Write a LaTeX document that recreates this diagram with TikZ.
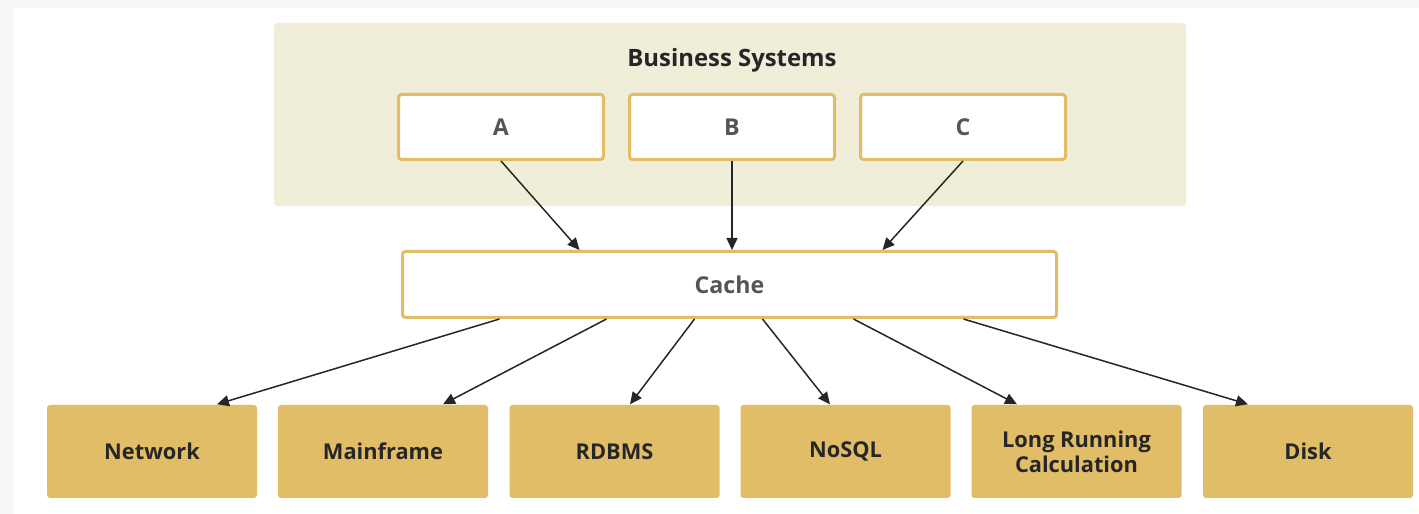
\documentclass[tikz,border=0pt]{standalone}
\usepackage{fontspec}
\setmainfont{Open Sans}
\usepackage{tikz}
\usetikzlibrary{arrows.meta}

\definecolor{pagegray}{HTML}{F8F8F8}
\definecolor{bizbg}{HTML}{F0EDD8}
\definecolor{gold}{HTML}{E2BD67}
\definecolor{labelgray}{HTML}{555555}
\definecolor{labeldark}{HTML}{262626}

\begin{document}
\begin{tikzpicture}[x=1cm,y=1cm,
  sysbox/.style={draw=gold, line width=0.03cm, fill=white, rounded corners=0.03cm,
    minimum width=2.05cm, minimum height=0.65cm, inner sep=0pt,
    text=labelgray, font=\fontsize{6.6}{7.8}\selectfont\bfseries},
  storebox/.style={fill=gold, rounded corners=0.03cm,
    minimum width=2.10cm, minimum height=0.93cm, inner sep=0pt, align=center,
    text=labeldark, font=\fontsize{6.2}{7.2}\selectfont\bfseries},
  feed/.style={-{Triangle[length=0.12cm,width=0.11cm]}, line width=0.015cm, black!85}]
% page
\fill [pagegray] (0,0) rectangle (14.19,-5.14);
\fill [white] (0.14,-0.08) rectangle (14.19,-5.14);
\useasboundingbox (0,0) rectangle (14.19,-5.14);
% business systems group
\node (biz) [fill=bizbg, rounded corners=0.03cm, minimum width=9.12cm, minimum height=1.83cm] at (7.30,-1.145) {};
\node (biztitle) [text=labeldark, font=\fontsize{6.8}{8}\selectfont\bfseries] at (7.32,-0.60) {Business Systems};
\node (sysA) [sysbox] at (5.01,-1.27) {A};
\node (sysB) [sysbox] at (7.32,-1.27) {B};
\node (sysC) [sysbox] at (9.63,-1.27) {C};
% cache
\node (cache) [sysbox, minimum width=6.54cm, minimum height=0.66cm] at (7.295,-2.845) {Cache};
% stores
\node (network) [storebox] at (1.52,-4.515) {Network};
\node (mainframe) [storebox] at (3.83,-4.515) {Mainframe};
\node (rdbms) [storebox] at (6.145,-4.515) {RDBMS};
\node (nosql) [storebox] at (8.455,-4.515) {NoSQL};
\node (longcalc) [storebox] at (10.765,-4.515) {Long Running\\Calculation};
\node (disk) [storebox] at (13.08,-4.515) {Disk};
% systems to cache
\draw [feed] (sysA.south) -- ([xshift=-1.50cm]cache.north);
\draw [feed] (sysB.south) -- (sysB.south |- cache.north);
\draw [feed] (sysC.south) -- ([xshift=1.53cm]cache.north);
% cache to stores
\draw [feed] ([xshift=-2.30cm]cache.south) -- ([xshift=0.65cm]network.north);
\draw [feed] ([xshift=-1.23cm]cache.south) -- ([xshift=0.60cm]mainframe.north);
\draw [feed] ([xshift=-0.35cm]cache.south) -- ([xshift=0.155cm]rdbms.north);
\draw [feed] ([xshift=0.33cm]cache.south) -- ([xshift=-0.155cm]nosql.north);
\draw [feed] ([xshift=1.24cm]cache.south) -- ([xshift=-0.595cm]longcalc.north);
\draw [feed] ([xshift=2.34cm]cache.south) -- ([xshift=-0.60cm]disk.north);
\end{tikzpicture}
\end{document}
